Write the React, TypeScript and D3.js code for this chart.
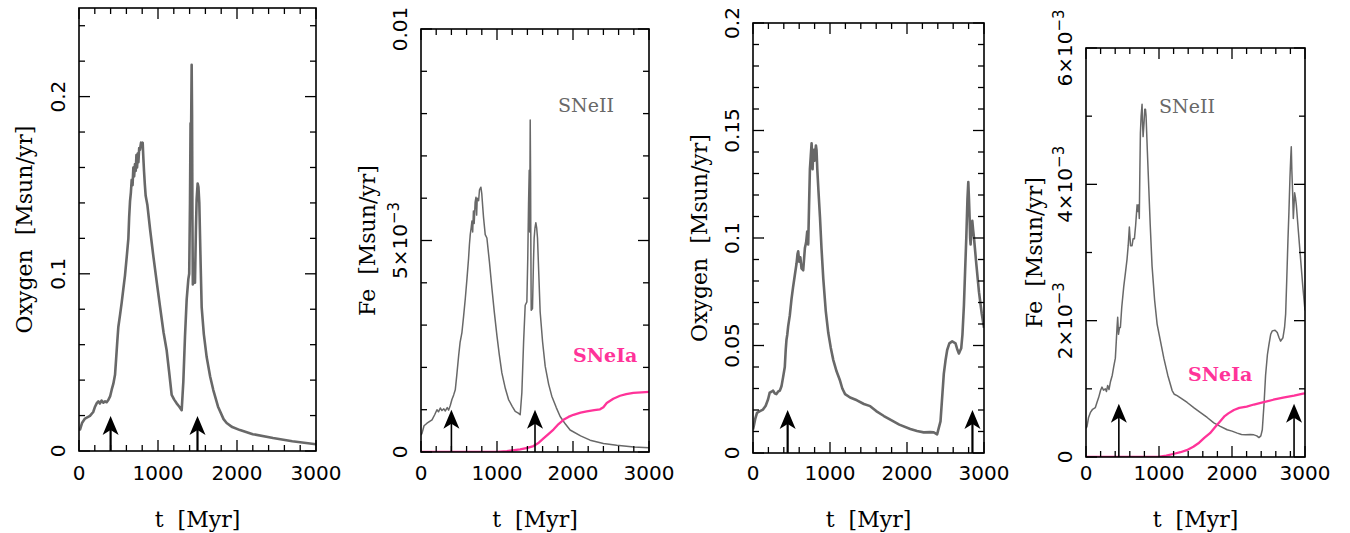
import React from "react";
import * as d3 from "d3";

type Pt = [number, number];

// ---- data (t in Myr, value in Msun/yr) ----
const oxygenRunA: Pt[] = [[0,0.012],[13,0.0121],[40,0.016],[76,0.0183],[139,0.0198],[180,0.022],[203,0.025],[225,0.027],[245,0.028],[265,0.0268],[285,0.0285],[308,0.0273],[330,0.028],[350,0.0275],[371,0.0288],[395,0.031],[414,0.0346],[435,0.038],[456,0.043],[470,0.052],[485,0.062],[498,0.07],[520,0.077],[540,0.0836],[560,0.091],[582,0.099],[605,0.11],[625,0.12],[635,0.132],[646,0.141],[657,0.146],[667,0.153],[678,0.15],[688,0.16],[698,0.155],[709,0.162],[718,0.158],[727,0.167],[735,0.16],[745,0.168],[752,0.163],[762,0.171],[772,0.17],[785,0.174],[797,0.172],[806,0.174],[815,0.165],[823,0.158],[834,0.15],[844,0.144],[865,0.139],[900,0.125],[941,0.11],[985,0.095],[1025,0.0817],[1070,0.067],[1110,0.0567],[1140,0.045],[1173,0.0317],[1205,0.029],[1236,0.0269],[1270,0.025],[1300,0.023],[1321,0.0394],[1342,0.065],[1363,0.0855],[1384,0.097],[1395,0.1],[1405,0.14],[1412,0.185],[1418,0.175],[1426,0.218],[1431,0.19],[1436,0.13],[1441,0.094],[1455,0.096],[1468,0.095],[1480,0.125],[1489,0.142],[1502,0.151],[1512,0.149],[1523,0.14],[1540,0.105],[1553,0.081],[1580,0.066],[1616,0.053],[1660,0.042],[1700,0.0344],[1760,0.025],[1830,0.018],[1869,0.0158],[1940,0.0135],[2038,0.0118],[2200,0.0095],[2456,0.0073],[2700,0.0055],[3000,0.0038]];

const ironSNeIIRunA: Pt[] = [[0,0.0004],[13,0.00044],[40,0.00062],[79,0.00068],[145,0.00076],[180,0.00088],[210,0.001],[230,0.00095],[254,0.00104],[275,0.00098],[300,0.00102],[320,0.00097],[345,0.00105],[364,0.00099],[385,0.0011],[407,0.00124],[430,0.00135],[451,0.00147],[470,0.0018],[495,0.00227],[515,0.0026],[539,0.00283],[560,0.0032],[583,0.00363],[605,0.0041],[626,0.00458],[637,0.0049],[648,0.00514],[660,0.0053],[670,0.00546],[680,0.0052],[690,0.0057],[700,0.0054],[712,0.0059],[723,0.00602],[732,0.0056],[740,0.006],[758,0.00594],[770,0.0062],[788,0.00626],[800,0.0061],[812,0.0058],[823,0.00554],[845,0.00514],[867,0.00506],[900,0.0045],[933,0.00387],[965,0.0033],[999,0.00275],[1030,0.0023],[1064,0.00187],[1110,0.0015],[1152,0.00124],[1200,0.00108],[1240,0.00096],[1280,0.00092],[1305,0.00088],[1327,0.0014],[1350,0.0026],[1371,0.00347],[1393,0.00355],[1405,0.0046],[1415,0.00586],[1424,0.00666],[1430,0.0052],[1437,0.00785],[1442,0.0065],[1445,0.00506],[1450,0.00335],[1467,0.00339],[1480,0.0045],[1489,0.00506],[1500,0.0053],[1511,0.00542],[1522,0.0053],[1533,0.00506],[1550,0.0042],[1568,0.00331],[1600,0.0026],[1634,0.00203],[1680,0.0016],[1721,0.00132],[1780,0.00105],[1831,0.00084],[1900,0.00066],[1962,0.00052],[2100,0.00038],[2225,0.00028],[2400,0.0002],[2575,0.00016],[2800,0.00012],[3000,0.0001]];

const ironSNeIaRunA: Pt[] = [[0,0],[1000,0],[1130,0.00002],[1305,0.00006],[1400,0.0001],[1480,0.00014],[1550,0.00022],[1612,0.00032],[1680,0.00043],[1743,0.00053],[1810,0.00066],[1875,0.00076],[1940,0.00083],[2006,0.00088],[2100,0.00093],[2181,0.00096],[2280,0.00099],[2356,0.00101],[2400,0.00106],[2444,0.00116],[2530,0.00126],[2619,0.00133],[2700,0.00137],[2794,0.0014],[2900,0.00141],[3000,0.00142]];

const oxygenRunB: Pt[] = [[0,0.011],[9,0.0123],[30,0.016],[52,0.0187],[90,0.0195],[130,0.0202],[165,0.022],[196,0.025],[217,0.0281],[240,0.0285],[261,0.029],[280,0.0278],[304,0.0274],[325,0.0285],[348,0.029],[370,0.031],[391,0.0353],[413,0.04],[425,0.048],[435,0.0527],[445,0.055],[457,0.059],[478,0.064],[500,0.0716],[520,0.077],[543,0.0827],[565,0.088],[578,0.0925],[587,0.0938],[600,0.089],[615,0.091],[630,0.0859],[652,0.085],[674,0.0953],[690,0.098],[704,0.103],[717,0.097],[728,0.115],[739,0.132],[750,0.138],[761,0.144],[774,0.132],[782,0.14],[791,0.141],[800,0.136],[817,0.143],[825,0.141],[835,0.132],[850,0.122],[870,0.1096],[890,0.095],[913,0.081],[945,0.066],[978,0.0558],[1010,0.049],[1043,0.0432],[1085,0.038],[1130,0.0337],[1160,0.03],[1196,0.0274],[1261,0.0258],[1350,0.0245],[1440,0.0228],[1522,0.0218],[1600,0.0195],[1700,0.0172],[1783,0.0155],[1900,0.0132],[2043,0.0112],[2130,0.0102],[2217,0.0096],[2300,0.0097],[2348,0.0096],[2391,0.0087],[2435,0.0147],[2478,0.0368],[2500,0.043],[2522,0.0479],[2550,0.051],[2587,0.0519],[2630,0.051],[2655,0.048],[2674,0.0463],[2704,0.0487],[2720,0.055],[2739,0.0685],[2755,0.085],[2770,0.1],[2785,0.118],[2796,0.126],[2805,0.118],[2813,0.1096],[2820,0.1],[2826,0.097],[2835,0.103],[2848,0.108],[2858,0.104],[2870,0.1],[2900,0.088],[2935,0.0748],[2970,0.065],[3000,0.0582]];

const ironSNeIIRunB: Pt[] = [[0,0.00042],[14,0.00045],[35,0.00058],[59,0.00065],[90,0.0007],[128,0.000725],[150,0.0008],[174,0.000875],[200,0.00098],[219,0.001025],[240,0.00098],[265,0.001],[280,0.00096],[297,0.00105],[315,0.00099],[334,0.0011],[360,0.0012],[380,0.001325],[402,0.00145],[415,0.0017],[425,0.0019],[434,0.00205],[445,0.0018],[460,0.0019],[471,0.0019],[490,0.0022],[517,0.0025],[540,0.0027],[562,0.0029],[578,0.0031],[594,0.003375],[610,0.0031],[631,0.0031],[645,0.0032],[663,0.0032],[680,0.0034],[700,0.0037],[712,0.0036],[722,0.0037],[730,0.0035],[738,0.0042],[745,0.00475],[755,0.005],[768,0.005175],[775,0.0049],[782,0.0047],[795,0.0049],[805,0.0051],[815,0.0051],[823,0.005],[840,0.0045],[860,0.00395],[880,0.0034],[905,0.0028],[940,0.0023],[974,0.00195],[1020,0.0017],[1066,0.00145],[1120,0.0012],[1180,0.000975],[1210,0.00092],[1248,0.0009],[1320,0.00085],[1386,0.0008],[1480,0.00072],[1569,0.00065],[1660,0.00058],[1751,0.0005],[1840,0.00045],[1934,0.0004],[2000,0.00038],[2072,0.00035],[2130,0.00033],[2186,0.000325],[2250,0.00033],[2300,0.000325],[2340,0.00031],[2369,0.000285],[2395,0.00031],[2415,0.0004],[2440,0.0008],[2460,0.0012],[2485,0.0015],[2506,0.00165],[2530,0.0018],[2552,0.00185],[2590,0.00186],[2620,0.001825],[2645,0.00175],[2666,0.0017],[2698,0.00175],[2720,0.0019],[2735,0.0021],[2750,0.0026],[2767,0.0032],[2780,0.0036],[2794,0.0041],[2805,0.0044],[2812,0.00455],[2820,0.0042],[2830,0.0039],[2840,0.0035],[2850,0.0037],[2858,0.003875],[2870,0.0038],[2881,0.0037],[2910,0.0033],[2940,0.0029],[2970,0.0025],[3000,0.00215]];

const ironSNeIaRunB: Pt[] = [[0,0],[990,0],[1100,0.00002],[1193,0.000044],[1294,0.00007],[1380,0.0001],[1470,0.00015],[1550,0.00021],[1620,0.00028],[1699,0.00035],[1770,0.00044],[1836,0.00052],[1900,0.0006],[1950,0.00064],[2026,0.00069],[2100,0.00072],[2201,0.00074],[2300,0.00077],[2420,0.0008],[2566,0.00084],[2700,0.00087],[2850,0.0009],[2973,0.00093],[3000,0.000935]];

// arrows: times and tip heights
const arrowTimesA = [400, 1500];
const arrowTimesB = [450, 2850];

// tick labels
const xTickValues = [0, 1000, 2000, 3000];
const yTicksOxyA = [0, 0.1, 0.2];
const yLabelsOxyA = [["0"], ["0.1"], ["0.2"]];
const yTicksFeA = [0, 0.005, 0.01];
const yLabelsFeA = [["0"], ["5×10", "−3"], ["0.01"]];
const yTicksOxyB = [0, 0.05, 0.1, 0.15, 0.2];
const yLabelsOxyB = [["0"], ["0.05"], ["0.1"], ["0.15"], ["0.2"]];
const yTicksFeB = [0, 0.002, 0.004, 0.006];
const yLabelsFeB = [["0"], ["2×10", "−3"], ["4×10", "−3"], ["6×10", "−3"]];

const GRAY = "#686868";
const PINK = "#ff3399";

interface Series { data: Pt[]; color: string; width: number; }
interface Panel {
  box: [number, number, number, number]; // left, right, top, bottom
  yMax: number; yMinor: number;
  yTicks: number[]; yLabels: string[][];
  yTitle: string; yTitleX: number;
  series: Series[];
  arrows: number[]; arrowTip: number; arrowW: number;
  notes: { text: string; x: number; y: number; color: string; bold: boolean }[];
}

const panels: Panel[] = [
  { box: [79, 316, 8, 451], yMax: 0.25, yMinor: 0.02, yTicks: yTicksOxyA, yLabels: yLabelsOxyA,
    yTitle: "Oxygen  [Msun/yr]", yTitleX: 32,
    series: [{ data: oxygenRunA, color: GRAY, width: 2.6 }],
    arrows: arrowTimesA, arrowTip: 0.0198, arrowW: 2.2, notes: [] },
  { box: [421, 649, 29, 452], yMax: 0.01, yMinor: 0.001, yTicks: yTicksFeA, yLabels: yLabelsFeA,
    yTitle: "Fe  [Msun/yr]", yTitleX: 375,
    series: [{ data: ironSNeIIRunA, color: GRAY, width: 1.5 }, { data: ironSNeIaRunA, color: PINK, width: 2.3 }],
    arrows: arrowTimesA, arrowTip: 0.001, arrowW: 1.6,
    notes: [{ text: "SNeII", x: 558, y: 112, color: GRAY, bold: false }, { text: "SNeIa", x: 573, y: 362, color: PINK, bold: true }] },
  { box: [753, 984, 23, 453], yMax: 0.2, yMinor: 0.01, yTicks: yTicksOxyB, yLabels: yLabelsOxyB,
    yTitle: "Oxygen  [Msun/yr]", yTitleX: 707,
    series: [{ data: oxygenRunB, color: GRAY, width: 2.6 }],
    arrows: arrowTimesB, arrowTip: 0.02, arrowW: 2.2, notes: [] },
  { box: [1086, 1305, 48, 457], yMax: 0.006, yMinor: 0.001, yTicks: yTicksFeB, yLabels: yLabelsFeB,
    yTitle: "Fe  [Msun/yr]", yTitleX: 1042,
    series: [{ data: ironSNeIIRunB, color: GRAY, width: 1.5 }, { data: ironSNeIaRunB, color: PINK, width: 2.3 }],
    arrows: arrowTimesB, arrowTip: 0.00078, arrowW: 1.6,
    notes: [{ text: "SNeII", x: 1159, y: 113, color: GRAY, bold: false }, { text: "SNeIa", x: 1188, y: 381, color: PINK, bold: true }] },
];

const TICK_FONT = "'DejaVu Sans', sans-serif";
const TITLE_FONT = "'DejaVu Serif', serif";

function PanelView({ p }: { p: Panel }) {
  const [l, r, t, b] = p.box;
  const x = d3.scaleLinear().domain([0, 3000]).range([l, r]);
  const y = d3.scaleLinear().domain([0, p.yMax]).range([b, t]);
  const line = d3.line<Pt>().x(d => x(d[0])).y(d => y(d[1]));
  const xMinor = d3.range(0, 3001, 200);
  const yMinor = d3.range(0, p.yMax + p.yMinor * 0.01, p.yMinor);
  const isMajorY = (v: number) => p.yTicks.some(m => Math.abs(m - v) < p.yMinor * 0.01);
  const mid = (t + b) / 2;
  const clipId = `clip${l}`;
  return (
    <g>
      <defs>
        <clipPath id={clipId}><rect x={l} y={t} width={r - l} height={b - t} /></clipPath>
      </defs>
      <g clipPath={`url(#${clipId})`}>
        {p.series.map((s, i) => (
          <path key={i} d={line(s.data) || ""} fill="none" stroke={s.color} strokeWidth={s.width} strokeLinejoin="round" />
        ))}
      </g>
      {p.arrows.map((a, i) => {
        const ax = x(a); const ty = y(p.arrowTip);
        return (
          <g key={i}>
            <line x1={ax} x2={ax} y1={b} y2={ty + 8} stroke="#000" strokeWidth={p.arrowW} />
            <path d={`M${ax},${ty} L${ax - 8},${ty + 19} L${ax},${ty + 14} L${ax + 8},${ty + 19} Z`} fill="#000" />
          </g>
        );
      })}
      {/* x ticks top & bottom */}
      {xMinor.map(v => {
        const len = v % 1000 === 0 ? 11 : 6;
        return (
          <g key={v}>
            <line x1={x(v)} x2={x(v)} y1={b} y2={b - len} stroke="#000" strokeWidth={1.3} />
            <line x1={x(v)} x2={x(v)} y1={t} y2={t + len} stroke="#000" strokeWidth={1.3} />
          </g>
        );
      })}
      {yMinor.map((v, i) => {
        const len = isMajorY(v) ? 11 : 6;
        return (
          <g key={i}>
            <line x1={l} x2={l + len} y1={y(v)} y2={y(v)} stroke="#000" strokeWidth={1.3} />
            <line x1={r} x2={r - len} y1={y(v)} y2={y(v)} stroke="#000" strokeWidth={1.3} />
          </g>
        );
      })}
      <rect x={l} y={t} width={r - l} height={b - t} fill="none" stroke="#000" strokeWidth={1.6} />
      {xTickValues.map(v => (
        <text key={v} x={x(v)} y={480} textAnchor="middle" fontFamily={TICK_FONT} fontSize={20} fill="#000">{v}</text>
      ))}
      {p.yTicks.map((v, i) => (
        <text key={i} transform={`translate(${l - 14},${y(v)}) rotate(-90)`} textAnchor="middle" fontFamily={TICK_FONT} fontSize={20} fill="#000">
          <tspan>{p.yLabels[i][0]}</tspan>
          {p.yLabels[i][1] ? <tspan dy={-8} fontSize={15}>{p.yLabels[i][1]}</tspan> : null}
        </text>
      ))}
      <text x={(l + r) / 2} y={527} textAnchor="middle" fontFamily={TITLE_FONT} fontSize={22} fill="#000" style={{ whiteSpace: "pre" }}>{"t  [Myr]"}</text>
      <text transform={`translate(${p.yTitleX},${mid}) rotate(-90)`} textAnchor="middle" fontFamily={TITLE_FONT} fontSize={22} fill="#000" style={{ whiteSpace: "pre" }}>{p.yTitle}</text>
      {p.notes.map((n, i) => (
        <text key={i} x={n.x} y={n.y} fontFamily={TITLE_FONT} fontSize={19} fontWeight={n.bold ? "bold" : "normal"} fill={n.color}>{n.text}</text>
      ))}
    </g>
  );
}

export default function App() {
  return (
    <svg width={1350} height={533} style={{ position: "absolute", left: 0, top: 0, background: "#fff" }}>
      <rect width={1350} height={533} fill="#fff" />
      {panels.map((p, i) => <PanelView key={i} p={p} />)}
    </svg>
  );
}
